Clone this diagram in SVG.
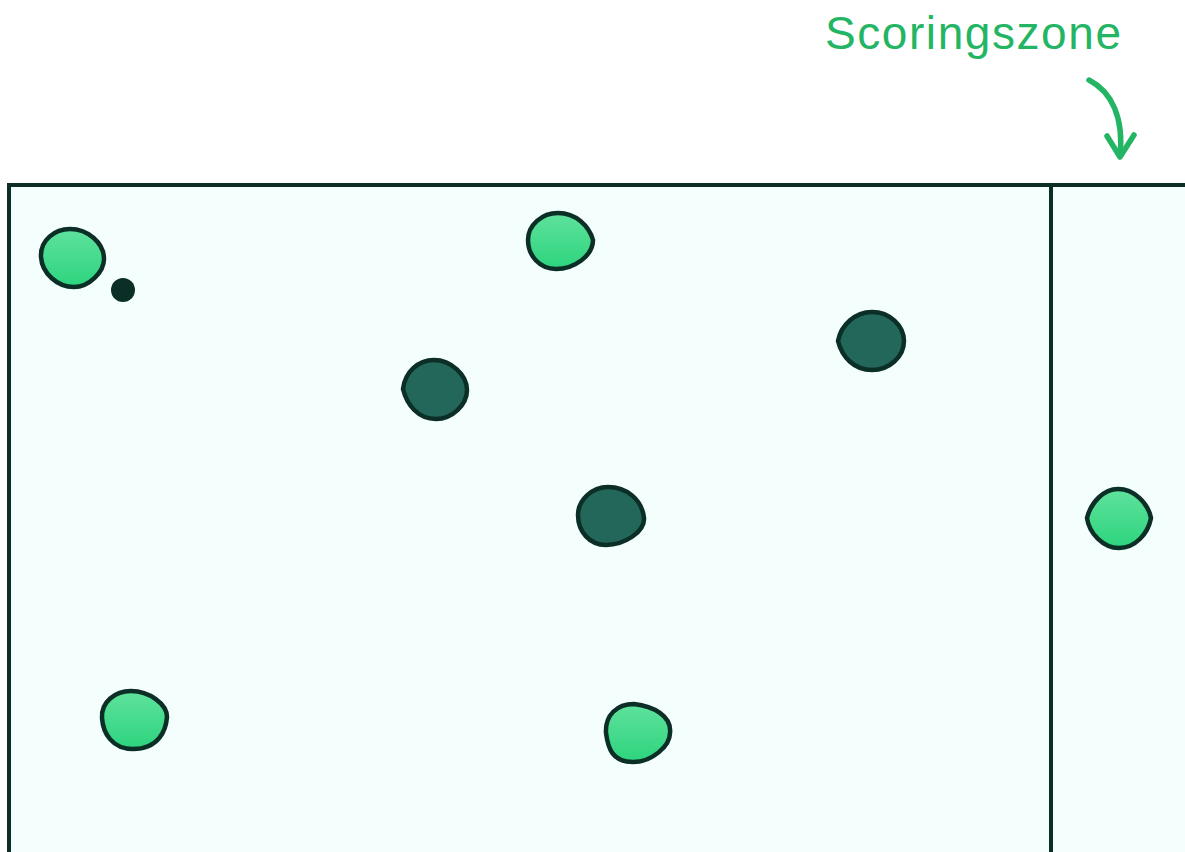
<svg xmlns="http://www.w3.org/2000/svg" width="1185" height="852" viewBox="0 0 1185 852">
<defs>
<linearGradient id="gg" x1="0" y1="0" x2="0" y2="1">
<stop offset="0" stop-color="#5fe29c"/>
<stop offset="1" stop-color="#2dd47e"/>
</linearGradient>
<style>
.field{fill:#f4fefd;stroke:#0b2e27;stroke-width:4}
.line{stroke:#0b2e27;stroke-width:4;fill:none}
.g{fill:url(#gg);stroke:#0b2e27;stroke-width:4.5;stroke-linejoin:round}
.d{fill:#22675a;stroke:#0b2e27;stroke-width:4.5;stroke-linejoin:round}
.lbl{fill:#23b564;font-family:"Liberation Sans",Arial,sans-serif;font-size:46px}
.arr{stroke:#23b564;stroke-width:5.5;fill:none;stroke-linecap:round;stroke-linejoin:round}
</style>
</defs>
<rect width="1185" height="852" fill="#ffffff"/>
<g id="field">
<rect class="field" x="9" y="185" width="1200" height="700"/>
<line class="line" x1="1051" y1="185" x2="1051" y2="860"/>
</g>
<g id="label">
<text class="lbl" x="825" y="49" textLength="296" lengthAdjust="spacing">Scoringszone</text>
</g>
<g id="connectors">
<path class="arr" d="M1089,80 C1112,92 1124,118 1120,156"/>
<path class="arr" d="M1107,136 L1120,157 L1134,135"/>
</g>
<g id="green1"><path class="g" d="M41,257 C40,240 55,229 70,229 C88,229 104,243 104,259 C104,272 89,287 74,287 C57,287 42,273 41,257 Z"/></g>
<g id="ball"><circle cx="123" cy="290" r="12" fill="#0b2e27"/></g>
<g id="green2"><path class="g" d="M528,240 C528,225 542,213 558,213 C576,213 589,226 593,240 C593,256 574,269 556,269 C540,269 528,256 528,240 Z"/></g>
<g id="dark1"><path class="d" d="M403,389 C405,372 418,360 434,360 C451,360 467,375 467,390 C467,405 452,419 436,419 C418,419 407,405 403,389 Z"/></g>
<g id="dark2"><path class="d" d="M838,341 C841,325 855,312 872,312 C890,312 904,326 904,341 C904,357 889,370 872,370 C854,370 842,357 838,341 Z"/></g>
<g id="dark3"><path class="d" d="M578,515 C578,500 592,487 608,487 C626,487 642,499 644,518 C645,532 624,545 606,545 C590,545 578,532 578,515 Z"/></g>
<g id="green3"><path class="g" d="M1087,518 C1091,502 1104,489 1118,489 C1134,489 1148,503 1151,518 C1148,534 1135,548 1119,548 C1103,548 1089,533 1087,518 Z"/></g>
<g id="green4"><path class="g" d="M102,718 C101,702 115,691 131,691 C149,691 167,704 167,717 C166,730 159,749 133,749 C112,749 103,733 102,718 Z"/></g>
<g id="green5"><path class="g" d="M606,733 C605,715 617,704 634,704 C653,706 672,716 670,733 C670,746 652,762 633,762 C612,762 608,748 606,733 Z"/></g>
</svg>
